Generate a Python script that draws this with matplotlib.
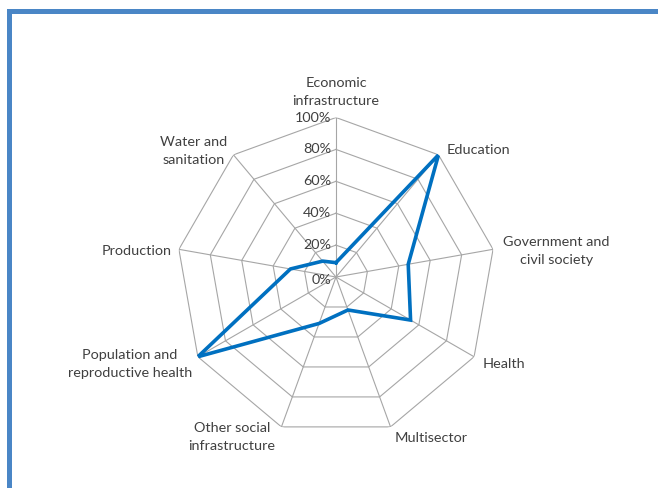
import numpy as np
import matplotlib.pyplot as plt
from matplotlib.patches import Rectangle

# sector shares, clockwise from the top
sectors = ['Economic\ninfrastructure', 'Education', 'Government and\ncivil society',
           'Health', 'Multisector', 'Other social\ninfrastructure',
           'Population and\nreproductive health', 'Production', 'Water and\nsanitation']
shares = [0.09, 1.00, 0.46, 0.54, 0.22, 0.31, 1.00, 0.29, 0.13]
rings = [0.0, 0.2, 0.4, 0.6, 0.8, 1.0]
ring_labels = ['0%', '20%', '40%', '60%', '80%', '100%']

# label placement: offset from the outer vertex (pixels) and alignment
label_offsets = [(0, 26), (8, 5), (10, -2), (9, -7), (4, -11),
                 (-6, -10), (-6, -7), (-7, -2), (-6, 4)]
label_ha = ['center', 'left', 'left', 'left', 'left', 'right', 'right', 'right', 'right']

txt = '#404040'
grid = '#A6A6A6'
blue = '#0070C0'

plt.rcParams['font.family'] = ['Lato', 'DejaVu Sans']

fig = plt.figure(figsize=(6.58, 4.88), dpi=100)
fig.patches.append(Rectangle((9 / 658, -0.1), 1.2, (488 - 11) / 488 + 0.1,
                             transform=fig.transFigure, fill=False,
                             edgecolor='#4A86C6', lw=3.6))

ax = fig.add_axes([0.2682, 0.1055, 0.4848, 0.6537], projection='polar')
ax.set_theta_zero_location('N')
ax.set_theta_direction(-1)
ax.set_ylim(0, 1)
ax.grid(False)
ax.spines['polar'].set_visible(False)
ax.set_xticks([])
ax.set_yticks([])
ax.patch.set_alpha(0)

n = len(sectors)
theta = np.arange(n) * 2 * np.pi / n
closed = np.append(theta, theta[0])

# polygon rings and spokes
for r in rings[1:]:
    ax.plot(closed, [r] * (n + 1), color=grid, lw=0.8, zorder=1)
for t in theta:
    ax.plot([t, t], [0, 1], color=grid, lw=0.8, zorder=1)

ax.plot(closed, shares + shares[:1], color=blue, lw=2.6, zorder=3,
        solid_joinstyle='miter')

for t, name, off, ha in zip(theta, sectors, label_offsets, label_ha):
    ax.annotate(name, xy=(t, 1.0), xytext=off, textcoords='offset pixels',
                ha=ha, va='center', multialignment='center', linespacing=1.6,
                fontsize=10.4, color=txt, annotation_clip=False)

for r, lab in zip(rings, ring_labels):
    ax.annotate(lab, xy=(0, r), xytext=(-5, 0 if r > 0 else -3),
                textcoords='offset pixels', ha='right', va='center',
                fontsize=10.4, color=txt)

fig.savefig('out.png', dpi=100)
